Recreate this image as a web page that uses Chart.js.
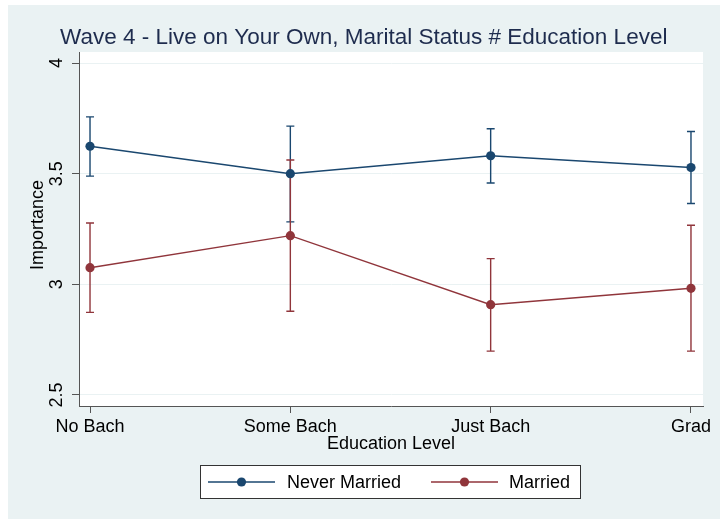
<!DOCTYPE html>
<html>
<head>
<meta charset="utf-8">
<script src="https://cdn.jsdelivr.net/npm/chart.js@4.4.0/dist/chart.umd.min.js"></script>
<style>
  html, body { margin: 0; padding: 0; background: #ffffff; }
  #frame { position: absolute; left: 8px; top: 5px; width: 712px; height: 514px; background: #eaf2f3; }
  #c { position: absolute; left: 0; top: 0; }
</style>
</head>
<body>
<div id="frame"></div>
<canvas id="c" width="720" height="519"></canvas>
<script>
// Predictive margins with 95% CIs, by education level
const categories = ['No Bach', 'Some Bach', 'Just Bach', 'Grad'];
const seriesNames = ['Never Married', 'Married'];

const neverMarried     = [3.624, 3.500, 3.581, 3.528];
const neverMarriedLow  = [3.489, 3.282, 3.458, 3.365];
const neverMarriedHigh = [3.757, 3.715, 3.703, 3.691];

const married     = [3.075, 3.220, 2.908, 2.982];
const marriedLow  = [2.873, 2.878, 2.698, 2.698];
const marriedHigh = [3.277, 3.562, 3.116, 3.267];

const yTicks = [2.5, 3, 3.5, 4];
const xTicks = [0, 1, 2, 3];

const titleText = 'Wave 4 - Live on Your Own, Marital Status # Education Level';
const xTitle = 'Education Level';
const yTitle = 'Importance';

const NAVY = '#1a476f';
const MAROON = '#90353b';
const FONT = '"Liberation Sans", Arial, Helvetica, sans-serif';
const LABEL_SIZE = 18;

const toPoints = vals => vals.map((v, i) => ({ x: i, y: v }));

// white plot region
const plotBackground = {
  id: 'plotBackground',
  beforeDraw(chart) {
    const { ctx, chartArea: a } = chart;
    ctx.save();
    ctx.fillStyle = '#ffffff';
    ctx.fillRect(a.left, a.top, a.right - a.left, a.bottom - a.top);
    ctx.restore();
  }
};

// capped confidence-interval spikes
const ciBars = {
  id: 'ciBars',
  beforeDatasetsDraw(chart) {
    const { ctx, scales: { x, y } } = chart;
    const sets = [
      { lo: neverMarriedLow, hi: neverMarriedHigh, color: NAVY },
      { lo: marriedLow, hi: marriedHigh, color: MAROON }
    ];
    ctx.save();
    ctx.lineWidth = 1.4;
    sets.forEach(s => {
      ctx.strokeStyle = s.color;
      s.lo.forEach((lo, i) => {
        const px = x.getPixelForValue(i);
        const p1 = y.getPixelForValue(lo);
        const p2 = y.getPixelForValue(s.hi[i]);
        ctx.beginPath();
        ctx.moveTo(px, p1); ctx.lineTo(px, p2);
        ctx.moveTo(px - 4, p1); ctx.lineTo(px + 4, p1);
        ctx.moveTo(px - 4, p2); ctx.lineTo(px + 4, p2);
        ctx.stroke();
      });
    });
    ctx.restore();
  }
};

// title, rotated y labels, axis titles and legend box
const annotations = {
  id: 'annotations',
  afterDraw(chart) {
    const { ctx, chartArea: a, scales: { y } } = chart;
    ctx.save();
    ctx.fillStyle = '#1e2c4e';
    ctx.font = '22.5px ' + FONT;
    ctx.textAlign = 'left';
    ctx.textBaseline = 'alphabetic';
    ctx.fillText(titleText, 60, 44);

    ctx.fillStyle = '#000000';
    ctx.font = LABEL_SIZE + 'px ' + FONT;
    ctx.textAlign = 'center';
    ctx.textBaseline = 'middle';
    yTicks.forEach(v => {
      ctx.save();
      ctx.translate(57, y.getPixelForValue(v));
      ctx.rotate(-Math.PI / 2);
      ctx.fillText(String(v), 0, 0);
      ctx.restore();
    });

    ctx.save();
    ctx.translate(38, 225);
    ctx.rotate(-Math.PI / 2);
    ctx.fillText(yTitle, 0, 0);
    ctx.restore();

    ctx.fillText(xTitle, (a.left + a.right) / 2, 444);

    // legend
    const bx = 200.5, by = 465.5, bw = 380, bh = 33;
    ctx.fillStyle = '#ffffff';
    ctx.fillRect(bx, by, bw, bh);
    ctx.strokeStyle = '#333333';
    ctx.lineWidth = 1;
    ctx.strokeRect(bx, by, bw, bh);
    const cy = by + bh / 2;
    const items = [
      { x0: 208, x1: 275, tx: 287, color: NAVY, label: seriesNames[0] },
      { x0: 431, x1: 498, tx: 509, color: MAROON, label: seriesNames[1] }
    ];
    items.forEach(it => {
      ctx.strokeStyle = it.color;
      ctx.lineWidth = 1.4;
      ctx.beginPath();
      ctx.moveTo(it.x0, cy); ctx.lineTo(it.x1, cy);
      ctx.stroke();
      ctx.fillStyle = it.color;
      ctx.beginPath();
      ctx.arc((it.x0 + it.x1) / 2, cy, 4.6, 0, Math.PI * 2);
      ctx.fill();
      ctx.fillStyle = '#000000';
      ctx.textAlign = 'left';
      ctx.fillText(it.label, it.tx, cy + 1);
    });
    ctx.restore();
  }
};

new Chart(document.getElementById('c'), {
  type: 'line',
  data: {
    datasets: [
      {
        label: seriesNames[0],
        data: toPoints(neverMarried),
        borderColor: NAVY,
        backgroundColor: NAVY,
        borderWidth: 1.4,
        pointRadius: 4.6,
        pointBorderWidth: 0,
        pointBackgroundColor: NAVY,
        tension: 0
      },
      {
        label: seriesNames[1],
        data: toPoints(married),
        borderColor: MAROON,
        backgroundColor: MAROON,
        borderWidth: 1.4,
        pointRadius: 4.6,
        pointBorderWidth: 0,
        pointBackgroundColor: MAROON,
        tension: 0
      }
    ]
  },
  options: {
    responsive: false,
    animation: false,
    events: [],
    layout: { padding: { left: 0, right: 17, top: 52, bottom: 73 } },
    plugins: {
      legend: { display: false },
      title: { display: false },
      tooltip: { enabled: false }
    },
    scales: {
      x: {
        type: 'linear',
        min: -0.055,
        max: 3.06,
        afterFit(scale) { scale.height = 40; },
        afterBuildTicks(scale) { scale.ticks = xTicks.map(v => ({ value: v })); },
        grid: { drawOnChartArea: false, drawTicks: true, tickLength: 7, tickColor: '#555555', tickWidth: 1 },
        border: { display: true, color: '#555555', width: 1 },
        ticks: {
          autoSkip: false,
          maxRotation: 0,
          padding: 3,
          color: '#000000',
          font: { family: FONT, size: LABEL_SIZE },
          callback: v => categories[v]
        }
      },
      y: {
        min: 2.45,
        max: 4.05,
        afterFit(scale) { scale.width = 79; },
        afterBuildTicks(scale) { scale.ticks = yTicks.map(v => ({ value: v })); },
        grid: { color: '#eaf2f3', lineWidth: 1, drawTicks: true, tickLength: 7, tickColor: '#555555', tickWidth: 1 },
        border: { display: true, color: '#555555', width: 1 },
        ticks: { display: false }
      }
    }
  },
  plugins: [plotBackground, ciBars, annotations]
});
</script>
</body>
</html>
